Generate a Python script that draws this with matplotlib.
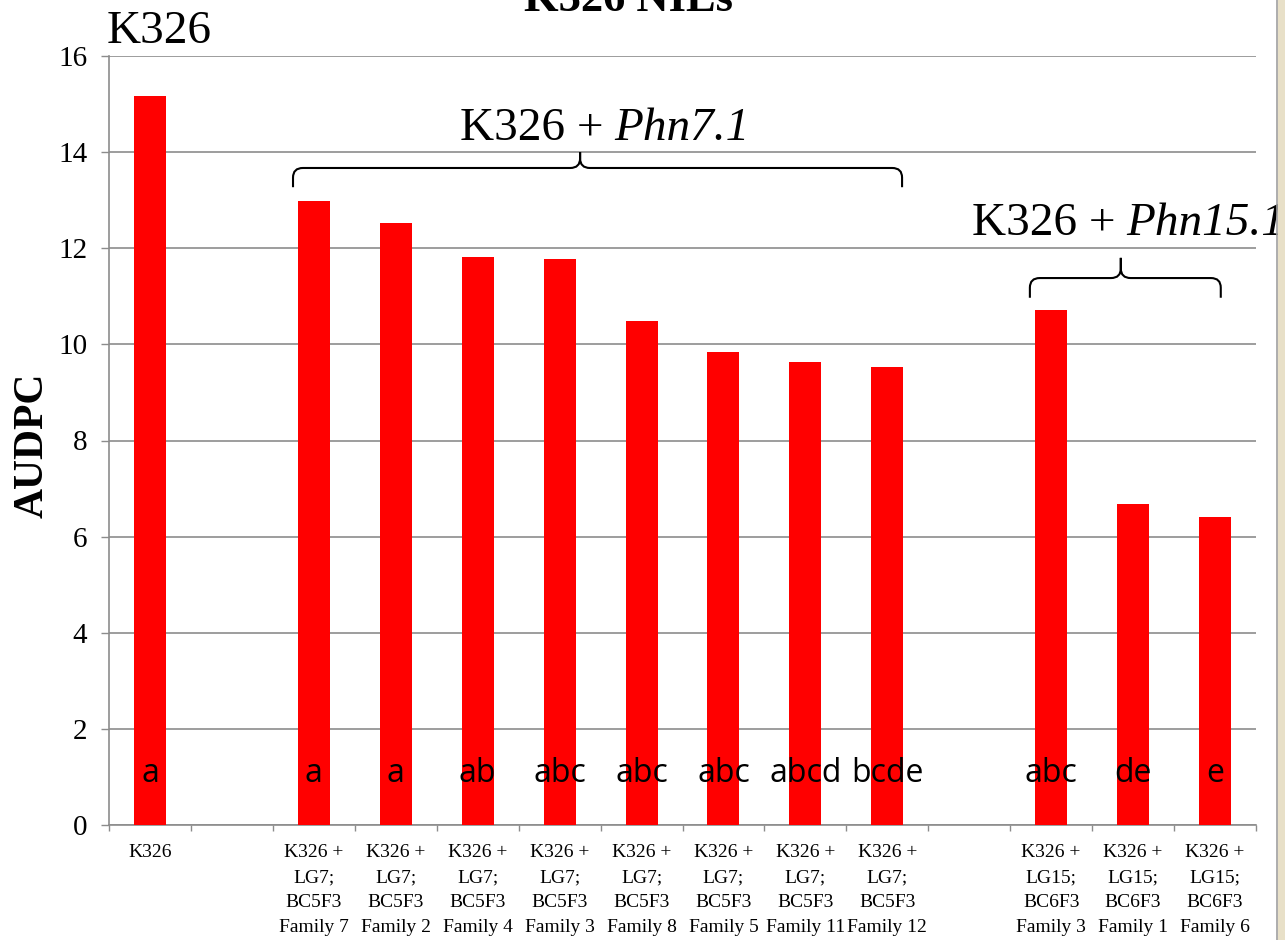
import numpy as np
import matplotlib.pyplot as plt
from matplotlib.path import Path
from matplotlib.patches import PathPatch, Rectangle
from matplotlib.lines import Line2D

plt.rcParams['font.family'] = ['Liberation Serif', 'DejaVu Serif']

# lines, with empty slots separating the groups
labels = ['K326', '',
          'K326 +\nLG7;\nBC5F3\nFamily 7', 'K326 +\nLG7;\nBC5F3\nFamily 2',
          'K326 +\nLG7;\nBC5F3\nFamily 4', 'K326 +\nLG7;\nBC5F3\nFamily 3',
          'K326 +\nLG7;\nBC5F3\nFamily 8', 'K326 +\nLG7;\nBC5F3\nFamily 5',
          'K326 +\nLG7;\nBC5F3\nFamily 11', 'K326 +\nLG7;\nBC5F3\nFamily 12',
          '',
          'K326 +\nLG15;\nBC6F3\nFamily 3', 'K326 +\nLG15;\nBC6F3\nFamily 1',
          'K326 +\nLG15;\nBC6F3\nFamily 6']
audpc = [15.17, np.nan,
         12.98, 12.52, 11.81, 11.77, 10.48, 9.84, 9.63, 9.53,
         np.nan,
         10.72, 6.67, 6.40]
letters = ['a', '',
           'a', 'a', 'ab', 'abc', 'abc', 'abc', 'abcd', 'bcde',
           '',
           'abc', 'de', 'e']

fig = plt.figure(figsize=(12.85, 9.4), dpi=100)
ax = fig.add_axes([109/1285, 1 - 825/940, (1256 - 109)/1285, (825 - 56)/940])

x = np.arange(len(labels))
vals = np.array(audpc, dtype=float)
has_bar = ~np.isnan(vals)
ax.bar(x[has_bar], vals[has_bar], width=0.39, color='#ff0000', zorder=3)

for xi, txt in zip(x, letters):
    if txt:
        ax.text(xi, 0.89, txt, ha='center', va='baseline', fontsize=23,
                family='Open Sans', zorder=4)

ax.set_xlim(-0.5, len(labels) - 0.5)
ax.set_ylim(0, 16)
ax.set_yticks(np.arange(0, 17, 2))
ax.tick_params(axis='y', labelsize=21, direction='out', length=5.5,
               width=1, color='#8c8c8c', pad=10)

# tick marks between categories, labels centred under each bar
ax.set_xticks(np.arange(-0.5, len(labels)), minor=False)
ax.set_xticklabels([])
ax.set_xticks(x, minor=True)
ax.set_xticklabels(labels, minor=True, fontsize=14, linespacing=1.6)
ax.tick_params(axis='x', which='major', direction='out', length=4,
               width=1, color='#8c8c8c')
ax.tick_params(axis='x', which='minor', length=0, pad=14)

ax.grid(axis='y', color='#8c8c8c', linewidth=1.2, zorder=0)
for s in ['top', 'right']:
    ax.spines[s].set_visible(False)
for s in ['left', 'bottom']:
    ax.spines[s].set_color('#8c8c8c')
    ax.spines[s].set_linewidth(1.2)


def brace(x0, x1, xc, yb, ym, yt, rx=0.12, ry=0.2):
    codes = [Path.MOVETO, Path.LINETO, Path.CURVE3, Path.CURVE3,
             Path.LINETO, Path.CURVE3, Path.CURVE3, Path.LINETO]
    verts = []
    for xe, sgn in ((x0, 1), (x1, -1)):
        verts += [(xe, yb), (xe, ym - ry), (xe, ym), (xe + sgn * rx, ym),
                  (xc - sgn * rx, ym), (xc, ym), (xc, ym + ry), (xc, yt)]
    path = Path(verts, codes * 2)
    ax.add_patch(PathPatch(path, fill=False, edgecolor='black',
                           linewidth=1.5, clip_on=False, zorder=5))


def group_label(x_split, y, gene):
    ax.text(x_split - 0.07, y, 'K326 +', ha='right', va='baseline',
            fontsize=34, clip_on=False)
    ax.text(x_split + 0.07, y, gene, ha='left', va='baseline',
            fontsize=34, style='italic', clip_on=False)


brace(1.746, 9.18, 5.25, 13.27, 13.67, 14.0)
brace(10.74, 13.07, 11.85, 10.97, 11.38, 11.80)

group_label(5.6, 14.25, 'Phn7.1')
group_label(11.85, 12.28, 'Phn15.1')
ax.text(-0.53, 16.27, 'K326', ha='left', va='baseline', fontsize=34,
        clip_on=False)

fig.text(33/1285, 1 - 445/940, 'AUDPC', rotation=90, ha='center',
         va='center', fontsize=30, fontweight='bold')
fig.text(629/1285, 1 - 11/940, 'K326 NILs', ha='center', va='baseline',
         fontsize=32, fontweight='bold')

# slide border on the right edge
fig.patches.append(Rectangle((1278/1285, 0), 7/1285, 1,
                             transform=fig.transFigure, color='#e8e0c8',
                             zorder=0))
fig.lines.append(Line2D([1277/1285, 1277/1285], [0, 1],
                        transform=fig.transFigure, color='#a0a0a0',
                        linewidth=1.2))

fig.savefig('out.png', dpi=100)
